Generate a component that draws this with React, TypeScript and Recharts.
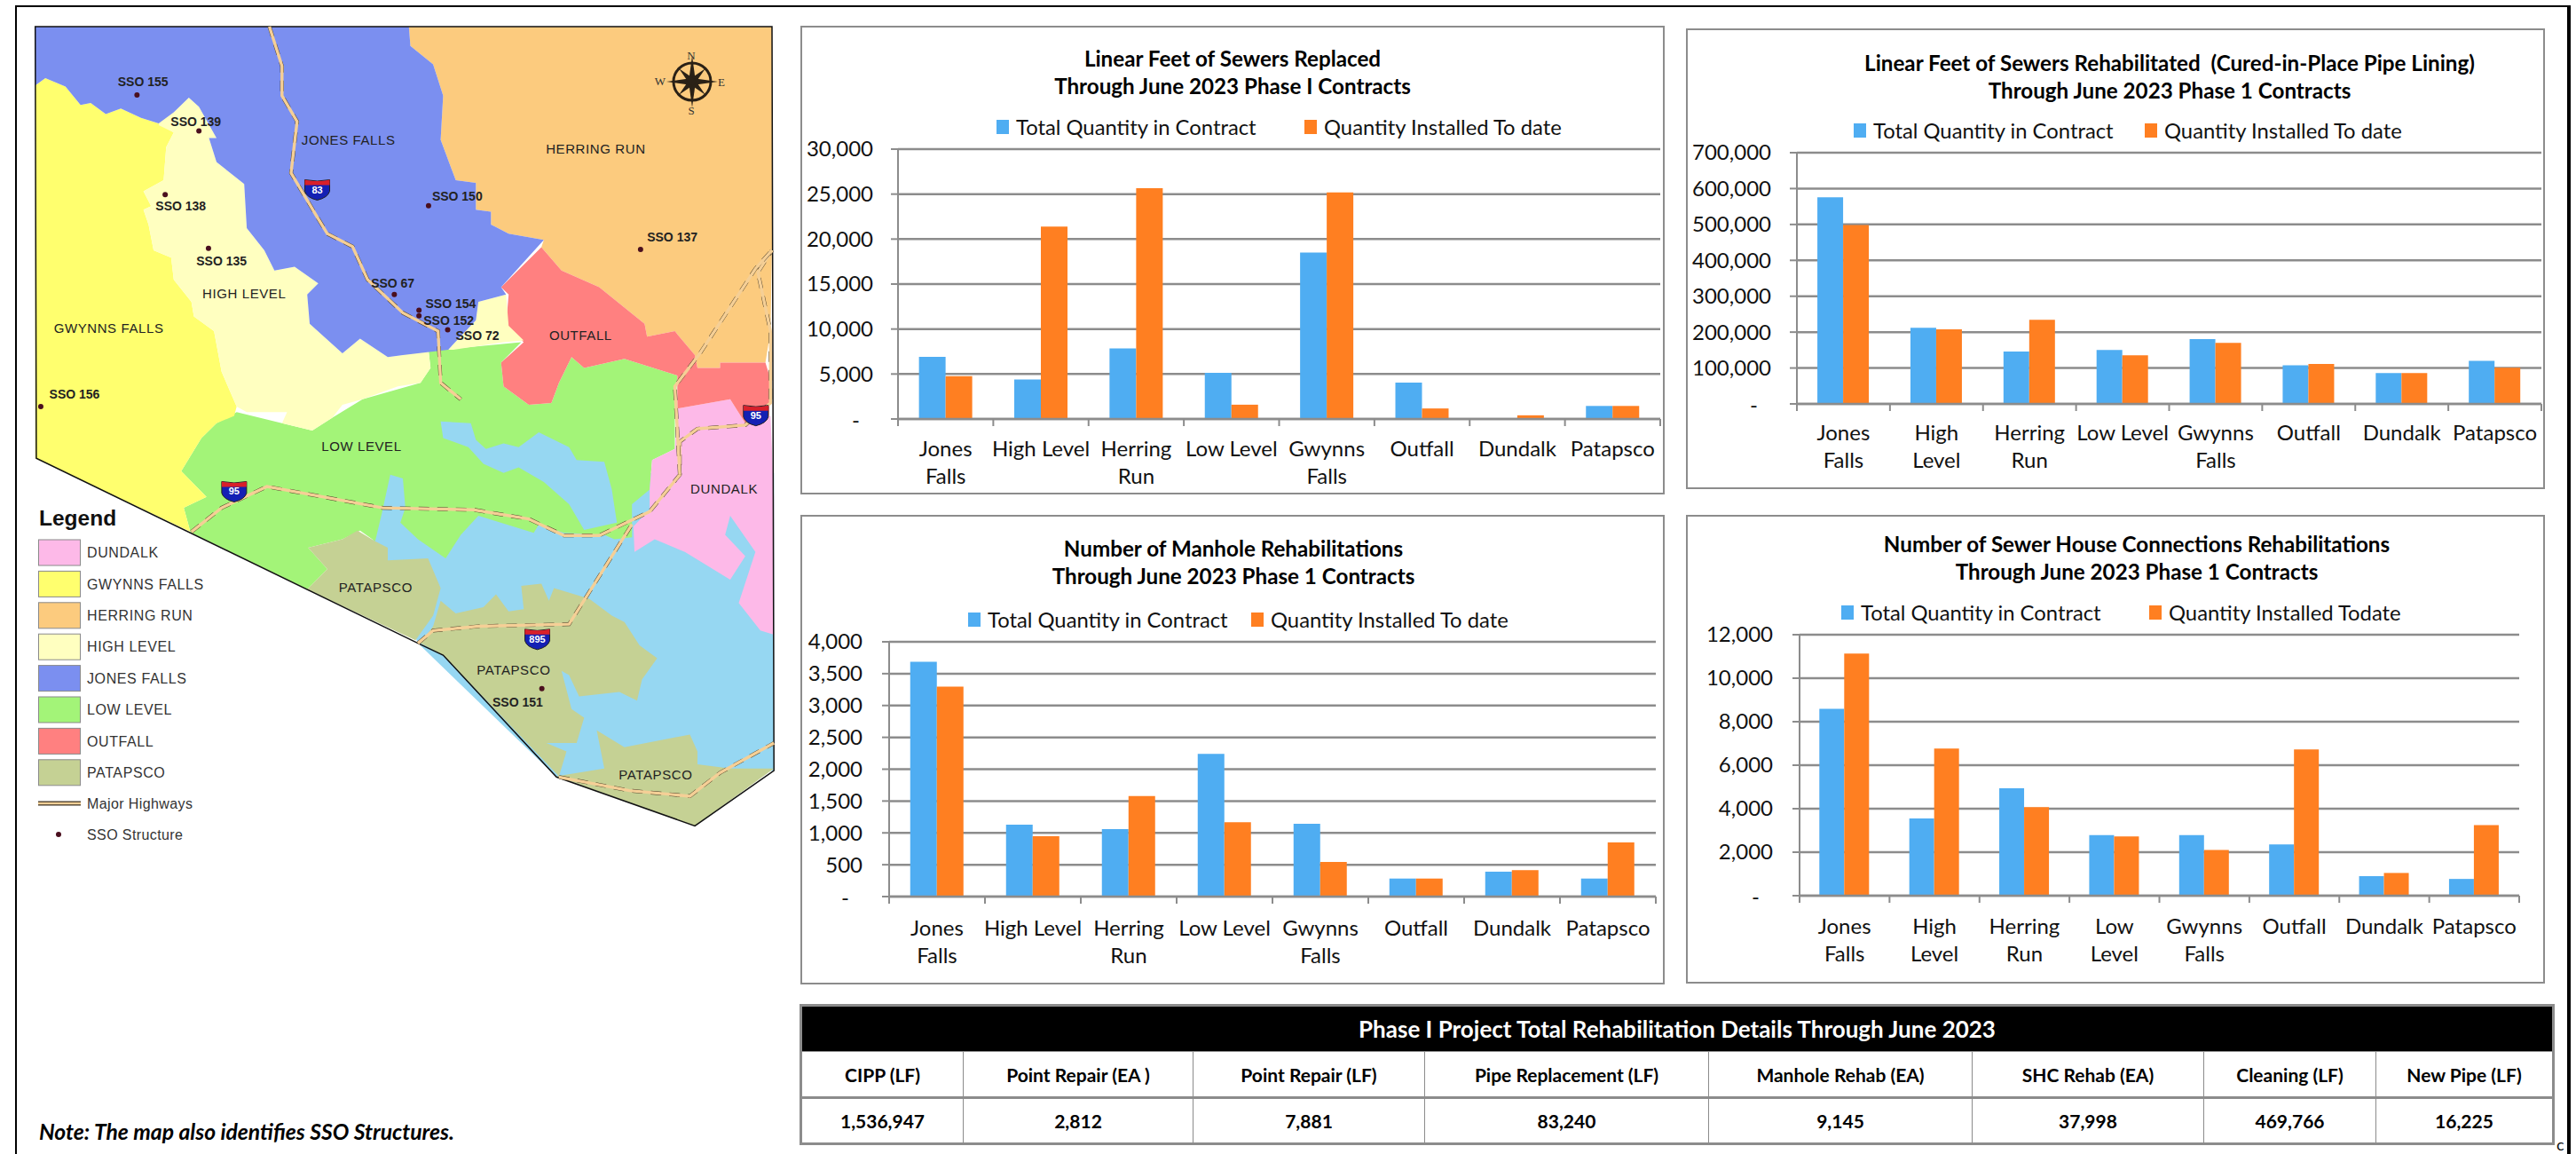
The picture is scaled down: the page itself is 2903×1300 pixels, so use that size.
import React from "react";
import {
    BarChart,
    Bar,
    XAxis,
    YAxis,
    CartesianGrid,
    Legend,
} from "recharts";

// Chart values
const categoriesReplaced = ["Jones\nFalls", "High Level", "Herring\nRun", "Low Level", "Gwynns\nFalls", "Outfall", "Dundalk", "Patapsco"];
const totalReplaced = [6900, 4380, 7840, 5140, 18500, 4040, 0, 1450];
const installedReplaced = [4760, 21400, 25650, 1590, 25200, 1170, 410, 1450];
const ticksReplaced = [0, 5000, 10000, 15000, 20000, 25000, 30000];

const categoriesLined = ["Jones\nFalls", "High\nLevel", "Herring\nRun", "Low Level", "Gwynns\nFalls", "Outfall", "Dundalk", "Patapsco"];
const totalLined = [575800, 211900, 145900, 150300, 180700, 107700, 86000, 119900];
const installedLined = [498500, 207600, 234500, 135500, 170200, 111200, 86000, 100700];
const ticksLined = [0, 100000, 200000, 300000, 400000, 500000, 600000, 700000];

const categoriesManhole = ["Jones\nFalls", "High Level", "Herring\nRun", "Low Level", "Gwynns\nFalls", "Outfall", "Dundalk", "Patapsco"];
const totalManhole = [3687, 1128, 1060, 2242, 1143, 283, 391, 283];
const installedManhole = [3297, 947, 1577, 1167, 542, 283, 415, 850];
const ticksManhole = [0, 500, 1000, 1500, 2000, 2500, 3000, 3500, 4000];

const categoriesHouse = ["Jones\nFalls", "High\nLevel", "Herring\nRun", "Low\nLevel", "Gwynns\nFalls", "Outfall", "Dundalk", "Patapsco"];
const totalHouse = [8590, 3550, 4940, 2790, 2790, 2360, 900, 770];
const installedHouse = [11130, 6770, 4070, 2720, 2100, 6720, 1045, 3250];
const ticksHouse = [0, 2000, 4000, 6000, 8000, 10000, 12000];

const tableTitle = "Phase I Project Total Rehabilitation Details Through June 2023";
const tableHeaders = ["CIPP (LF)", "Point Repair (EA )", "Point Repair (LF)", "Pipe Replacement (LF)", "Manhole Rehab (EA)", "SHC Rehab (EA)", "Cleaning (LF)", "New Pipe (LF)"];
const tableValues = ["1,536,947", "2,812", "7,881", "83,240", "9,145", "37,998", "469,766", "16,225"];
const tableColumns = [182, 259, 261, 320, 297, 261, 194, 199];

const legendAreas = ["DUNDALK", "GWYNNS FALLS", "HERRING RUN", "HIGH LEVEL", "JONES FALLS", "LOW LEVEL", "OUTFALL", "PATAPSCO"];
const legendAreaColors = ["#fdb9e8", "#ffff6e", "#fccb7e", "#ffffc0", "#7b8ff0", "#a3f478", "#ff8080", "#c5d194"];

const BLUE = "#4fadf2";
const ORANGE = "#ff7f21";
const GRID = "#8c8c8c";
const FONT = "Lato, Carlito, Calibri, sans-serif";

const formatTick = (v: number) => v.toLocaleString("en-US");

function YTick({ x, y, payload }: any) {
    const zero = payload.value === 0;
    return (
        <text x={zero ? x - 15 : x} y={zero ? y + 2 : y} dy="0.35em" textAnchor="end" fontFamily={FONT} fontSize={24} fill="#111">
            {zero ? "-" : formatTick(payload.value)}
        </text>
    );
}

// labels sit under the band, tick marks between bands like the Excel original
function XTick({ x, y, payload, index, band, offset, last }: any) {
    const lines = String(payload.value).split("\n");
    return (
        <g>
            <line x1={x - band / 2} x2={x - band / 2} y1={y} y2={y + 8} stroke={GRID} strokeWidth={2} />
            {index === last && <line x1={x + band / 2} x2={x + band / 2} y1={y} y2={y + 8} stroke={GRID} strokeWidth={2} />}
            {lines.map((line, i) => (
                <text key={line} x={x} y={y + offset + i * 31} dy="0.35em" textAnchor="middle" fontFamily={FONT} fontSize={24} fill="#111">
                    {line}
                </text>
            ))}
        </g>
    );
}

function SewerChart({ box, plot, titleLines, titleX, titleY, names, legendX, categories, total, installed, ticks, labelOffset, tickGap }: any) {
    const width = box.right - box.left;
    const height = box.bottom - box.top;
    const data = categories.map((category: string, i: number) => ({ category, total: total[i], installed: installed[i] }));
    const band = (plot.right - plot.left) / categories.length;
    const legendHeight = 24;

    const legendContent = () => (
        <div style={{ position: "relative", height: legendHeight, width }}>
            {names.map((name: string, i: number) => (
                <React.Fragment key={name}>
                    <div style={{ position: "absolute", left: legendX[i], top: 4, width: 14, height: 16, background: i === 0 ? BLUE : ORANGE }} />
                    <div style={{ position: "absolute", left: legendX[i] + 22, top: -4, fontFamily: FONT, fontSize: 23.8, lineHeight: "32px", whiteSpace: "nowrap", color: "#111" }}>
                        {name}
                    </div>
                </React.Fragment>
            ))}
        </div>
    );

    return (
        <div style={{ position: "absolute", left: box.left, top: box.top, width, height, boxSizing: "border-box", outline: `2.5px solid ${GRID}`, outlineOffset: -1 }}>
            {titleLines.map((line: string, i: number) => (
                <div key={line} style={{ position: "absolute", left: titleX - 500, width: 1000, top: titleY + i * 31 - 16, textAlign: "center", fontFamily: FONT, fontWeight: 700, fontSize: 24.2, lineHeight: "32px", color: "#000", whiteSpace: "pre" }}>
                    {line}
                </div>
            ))}
            <BarChart
                width={width}
                height={height}
                data={data}
                barCategoryGap="22%"
                barGap={0}
                margin={{ top: plot.top - box.top - legendHeight, right: box.right - plot.right, left: 0, bottom: 0 }}
                style={{ position: "absolute", left: 0, top: 0 }}
            >
                <CartesianGrid vertical={false} stroke={GRID} strokeWidth={2.5} />
                <XAxis
                    dataKey="category"
                    interval={0}
                    height={box.bottom - plot.bottom}
                    tickLine={false}
                    tickSize={0}
                    tickMargin={0}
                    axisLine={{ stroke: GRID, strokeWidth: 2.5 }}
                    tick={<XTick band={band} offset={labelOffset} last={categories.length - 1} />}
                />
                <YAxis
                    width={plot.left - box.left}
                    domain={[0, ticks[ticks.length - 1]]}
                    ticks={ticks}
                    interval={0}
                    tickSize={8}
                    tickMargin={tickGap}
                    tickLine={{ stroke: GRID, strokeWidth: 2 }}
                    axisLine={{ stroke: GRID, strokeWidth: 2 }}
                    tick={<YTick />}
                />
                <Legend
                    verticalAlign="top"
                    itemSorter={null}
                    content={legendContent}
                    wrapperStyle={{ left: 0, top: plot.top - box.top - 37, width, height: legendHeight }}
                />
                <Bar dataKey="total" name={names[0]} fill={BLUE} isAnimationActive={false} />
                <Bar dataKey="installed" name={names[1]} fill={ORANGE} isAnimationActive={false} />
            </BarChart>
        </div>
    );
}

function SummaryTable() {
    const cell = { border: `1.5px solid ${GRID}`, textAlign: "center" as const, fontFamily: FONT, fontWeight: 700, fontSize: 21, color: "#000", padding: 0 };
    return (
        <table style={{ position: "absolute", left: 903, top: 1133, width: 1973, height: 154, tableLayout: "fixed", borderCollapse: "collapse", outline: `2.5px solid ${GRID}` }}>
            <colgroup>
                {tableColumns.map((w, i) => <col key={i} style={{ width: w }} />)}
            </colgroup>
            <tbody>
                <tr style={{ height: 51 }}>
                    <td colSpan={8} style={{ ...cell, background: "#000", color: "#fff", fontSize: 26 }}>{tableTitle}</td>
                </tr>
                <tr style={{ height: 52, borderBottom: `3px solid ${GRID}` }}>
                    {tableHeaders.map((h) => <td key={h} style={cell}>{h}</td>)}
                </tr>
                <tr style={{ height: 51 }}>
                    {tableValues.map((v) => <td key={v} style={cell}>{v}</td>)}
                </tr>
            </tbody>
        </table>
    );
}

// ---- map (decoration only, traced by eye) ----
type P = number[];
const L = (x: number, y: number): P => [x, 1326.6 + y * 1.154];
const SX = 0.5675;
const SY = 0.41459;
const pts = (list: P[]) => list.map(([x, y]) => `${(x * SX).toFixed(1)},${(y * SY).toFixed(1)}`).join(" ");

const jonesShape: P[] = [[70, 72], [812, 72], [815, 125], [860, 175], [880, 260], [875, 380], [905, 490], [945, 497], [945, 570], [975, 575], [975, 610], [1010, 635], [1080, 652], [995, 780], [1005, 800], [950, 820], [945, 870], [890, 950], [800, 965], [770, 970], [715, 920], [680, 960], [615, 880], [610, 800], [632, 770], [585, 725], [545, 735], [525, 680], [490, 620], [485, 500], [430, 440], [415, 375], [430, 375], [395, 290], [375, 265], [345, 305], [315, 335], [280, 320], [240, 295], [210, 310], [180, 280], [160, 285], [130, 235], [90, 212], [70, 232]];
const highShape: P[] = [[375, 265], [395, 290], [430, 375], [415, 375], [430, 440], [485, 500], [490, 620], [525, 680], [545, 735], [585, 725], [632, 770], [610, 800], [615, 880], [680, 960], [715, 920], [770, 970], [800, 965], [850, 940], [855, 1000], [835, 1040], [790, 1050], [720, 1085], [680, 1100], [660, 1135], [620, 1170], [560, 1150], [570, 1120], [490, 1120], [470, 1105], [440, 1010], [425, 900], [385, 860], [380, 820], [345, 760], [340, 700], [305, 680], [295, 610], [285, 570], [300, 560], [285, 520], [325, 490], [330, 400], [345, 360], [315, 340], [320, 310], [345, 305]];
const highShape2: P[] = [[950, 820], [1005, 800], [1010, 885], [1040, 925], [1000, 930], [900, 950], [890, 950], [945, 870]];
const gwynnsShape: P[] = [[70, 232], [90, 212], [130, 235], [160, 285], [180, 280], [210, 310], [240, 295], [280, 320], [315, 335], [345, 360], [330, 400], [325, 490], [285, 520], [300, 560], [285, 570], [295, 610], [305, 680], [340, 700], [345, 760], [380, 820], [385, 860], [425, 900], [440, 1010], [470, 1105], [465, 1130], [430, 1150], [400, 1190], [360, 1280], [410, 1350], [365, 1380], [378, 1445], [70, 1245]];
const herringShape: P[] = [[812, 72], [1533, 72], [1533, 670], [1530, 900], [1520, 985], [1430, 985], [1430, 1000], [1385, 1000], [1380, 965], [1340, 900], [1285, 915], [1280, 880], [1190, 780], [1115, 735], [1075, 672], [1080, 652], [1010, 635], [975, 610], [975, 575], [945, 570], [945, 497], [905, 490], [875, 380], [880, 260], [860, 175], [815, 125]];
const outfallShape: P[] = [[1075, 672], [1115, 735], [1190, 780], [1280, 880], [1285, 915], [1340, 900], [1380, 965], [1385, 1000], [1430, 1000], [1430, 985], [1520, 985], [1530, 1030], [1527, 1130], [1480, 1150], [1450, 1085], [1345, 1110], [1345, 1020], [1240, 975], [1160, 1000], [1135, 970], [1110, 1040], [1095, 1095], [1050, 1100], [1000, 1050], [995, 985], [1040, 930], [1005, 885], [1010, 800], [995, 780]];
const lowShape: P[] = [[360, 1280], [400, 1190], [430, 1150], [470, 1120], [560, 1150], [620, 1170], [660, 1135], [720, 1085], [835, 1040], [855, 1000], [850, 940], [880, 950], [1035, 930], [995, 985], [1000, 1050], [1050, 1100], [1095, 1095], [1110, 1040], [1135, 970], [1160, 1000], [1240, 975], [1345, 1020], [1340, 1130], [1340, 1220], [1295, 1250], [1290, 1330], [1255, 1370], [1255, 1460], L(1220, 120), L(1200, 110), L(1120, 105), L(1070, 85), L(1060, 105), L(950, 65), L(915, 110), L(885, 165), L(830, 120), [795, 1420], [805, 1380], [800, 1300], [775, 1290], L(758, 60), L(745, 125), L(715, 100), L(680, 120), L(612, 140), L(650, 190), L(610, 238), L(380, 105), [378, 1445], [365, 1380], [410, 1350]];
const waterBase: P[] = [L(740, 120), [755, 1285], [1537, 1285], L(1537, 665), L(1105, 680), L(830, 365)];
const harborShape: P[] = [[875, 1145], [935, 1150], [945, 1195], [965, 1220], [1000, 1205], [1030, 1215], [1070, 1175], [1130, 1215], [1145, 1250], [1200, 1255], [1215, 1330], [1225, 1420], [1160, 1440], [1130, 1370], [1080, 1310], [1030, 1270], [1000, 1285], [960, 1260], [930, 1215], [880, 1190]];
const patapscoShapes: P[][] = [
    [L(610, 238), L(650, 190), L(612, 140), L(680, 120), L(710, 100), L(745, 125), L(770, 140), L(770, 170), L(850, 165), L(875, 235), L(860, 300), L(825, 358)],
    [L(835, 365), L(860, 325), L(875, 265), L(905, 295), L(960, 280), L(985, 250), L(1010, 290), L(1040, 285), L(1035, 230), L(1075, 225), L(1090, 265), L(1100, 235), L(1170, 260), L(1215, 300), L(1240, 315), L(1270, 370), L(1305, 400), L(1275, 450), L(1265, 500), L(1230, 480), L(1150, 490), L(1130, 440), L(1115, 430), L(1135, 520), L(1160, 540), L(1145, 600), L(1085, 600), L(1125, 620), L(1110, 678), L(880, 393)],
    [L(1105, 678), L(1200, 660), L(1185, 570), L(1240, 610), L(1370, 580), L(1385, 620), L(1385, 650), L(1450, 660), L(1537, 660), L(1380, 795)],
];
const dundalkShape: P[] = [[1345, 1110], [1450, 1085], [1480, 1150], [1530, 1130], [1537, 1350], L(1537, 345), L(1510, 335), L(1467, 270), L(1500, 150), L(1450, 65), L(1440, 110), L(1480, 160), L(1450, 215), L(1360, 150), L(1300, 120), L(1260, 150), L(1258, 90), L(1290, 50), [1290, 1330], [1295, 1250], [1340, 1220]];
const outline: P[] = [[70, 72], [1533, 72], L(1537, 665), L(1380, 795), L(1105, 680), L(880, 393), L(830, 365), [72, 1245]];
const highways: P[][] = [
    [[535, 72], [560, 180], [560, 260], [590, 330], [578, 470], [630, 590], [650, 635], [700, 670], [730, 760], [800, 850], [870, 900], [875, 1040], [915, 1085]],
    [[380, 1445], [440, 1380], [530, 1322], [760, 1380], [940, 1385], [1050, 1410], [1120, 1455], [1190, 1455], [1290, 1390], [1350, 1290], [1350, 1200], [1385, 1165], [1480, 1155], [1530, 1095], [1530, 900], [1505, 740], [1533, 680]],
    [[1350, 1290], [1340, 1050], [1390, 960], [1500, 730], [1533, 680]],
    [L(830, 365), L(860, 335), L(950, 325), L(1130, 320), L(1255, 85)],
    [L(1110, 680), L(1250, 712), L(1370, 725), L(1430, 670), L(1537, 600)],
];
const shields: [number, number, string][] = [[630, 515, "83"], [465, 1335, "95"], [1501, 1128, "95"], [1067, L(0, 355)[1], "895"]];
const areaLabels: [number, number, string][] = [[692, 380, "JONES FALLS"], [1183, 405, "HERRING RUN"], [485, 797, "HIGH LEVEL"], [216, 892, "GWYNNS FALLS"], [1153, 912, "OUTFALL"], [718, 1212, "LOW LEVEL"], [1438, 1328, "DUNDALK"], [746, L(0, 233)[1], "PATAPSCO"], [1020, L(0, 427)[1], "PATAPSCO"], [1302, L(0, 675)[1], "PATAPSCO"]];
const ssoLabels: [number, number, string][] = [[284, 222, "SSO 155"], [389, 330, "SSO 139"], [359, 561, "SSO 138"], [440, 710, "SSO 135"], [908, 534, "SSO 150"], [1335, 645, "SSO 137"], [780, 770, "SSO 67"], [895, 825, "SSO 154"], [891, 870, "SSO 152"], [948, 913, "SSO 72"], [148, 1072, "SSO 156"], [1028, L(0, 503)[1], "SSO 151"]];
const ssoDots: P[] = [[272, 258], [395, 356], [328, 529], [414, 675], [851, 559], [1272, 678], [783, 800], [832, 843], [832, 858], [889, 896], [81, 1105], L(1076, 472)];

function Shield({ x, y, label }: { x: number; y: number; label: string }) {
    const cx = x * SX;
    const cy = y * SY;
    return (
        <g>
            <path d={`M${cx - 14} ${cy - 11} Q${cx} ${cy - 8} ${cx + 14} ${cy - 11} L${cx + 14} ${cy + 2} Q${cx + 12} ${cy + 9} ${cx} ${cy + 12} Q${cx - 12} ${cy + 9} ${cx - 14} ${cy + 2} Z`} fill="#1420b4" stroke="#222" />
            <path d={`M${cx - 14} ${cy - 11} Q${cx} ${cy - 8} ${cx + 14} ${cy - 11} L${cx + 14} ${cy - 5} L${cx - 14} ${cy - 5} Z`} fill="#d8202a" />
            <text x={cx} y={cy + 4} textAnchor="middle" fontFamily="Liberation Sans" fontWeight={700} fontSize={11} fill="#fff">{label}</text>
        </g>
    );
}

function Compass() {
    const cx = 780;
    const cy = 92;
    const spikes = [0, 45, 90, 135, 180, 225, 270, 315];
    return (
        <g>
            <circle cx={cx} cy={cy} r={21} fill="none" stroke="#2a2116" strokeWidth={3} />
            {spikes.map((a) => (
                <polygon key={a} points={`${cx},${cy - (a % 90 === 0 ? 29 : 21)} ${cx + 4},${cy} ${cx - 4},${cy}`} fill="#2a2116" transform={`rotate(${a} ${cx} ${cy})`} />
            ))}
            <text x={779} y={67} textAnchor="middle" fontFamily="Liberation Serif" fontSize={13} fill="#333">N</text>
            <text x={779} y={129} textAnchor="middle" fontFamily="Liberation Serif" fontSize={13} fill="#333">S</text>
            <text x={744} y={96} textAnchor="middle" fontFamily="Liberation Serif" fontSize={13} fill="#333">W</text>
            <text x={813} y={97} textAnchor="middle" fontFamily="Liberation Serif" fontSize={13} fill="#333">E</text>
        </g>
    );
}

function MapPanel() {
    const swatchTop = (i: number) => 608 + i * 35.4;
    return (
        <svg width={890} height={1000} style={{ position: "absolute", left: 0, top: 0 }}>
            <polygon points={pts(waterBase)} fill="#96d7f2" />
            <polygon points={pts(lowShape)} fill="#a3f478" />
            <polygon points={pts(harborShape)} fill="#96d7f2" />
            {patapscoShapes.map((s, i) => <polygon key={i} points={pts(s)} fill="#c5d194" />)}
            <polygon points={pts(dundalkShape)} fill="#fdb9e8" />
            <polygon points={pts(herringShape)} fill="#fccb7e" />
            <polygon points={pts(outfallShape)} fill="#ff8080" />
            <polygon points={pts(gwynnsShape)} fill="#ffff6e" />
            <polygon points={pts(highShape)} fill="#ffffc0" />
            <polygon points={pts(highShape2)} fill="#ffffc0" />
            <polygon points={pts(jonesShape)} fill="#7b8ff0" />
            <polygon points={pts(outline)} fill="none" stroke="#111" strokeWidth={1.5} />
            {highways.map((h, i) => (
                <g key={i}>
                    <polyline points={pts(h)} fill="none" stroke="#4a3c26" strokeWidth={4.2} strokeDasharray="12 9" />
                    <polyline points={pts(h)} fill="none" stroke="#f5cf96" strokeWidth={3.4} />
                </g>
            ))}
            {shields.map(([x, y, label], i) => <Shield key={i} x={x} y={y} label={label} />)}
            {areaLabels.map(([x, y, label], i) => (
                <text key={i} x={x * SX} y={y * SY} dy="0.35em" textAnchor="middle" fontFamily="Liberation Sans" fontSize={15} letterSpacing={0.6} fill="#222">{label}</text>
            ))}
            {ssoLabels.map(([x, y, label]) => (
                <text key={label} x={x * SX} y={y * SY} dy="0.35em" textAnchor="middle" fontFamily="Liberation Sans" fontWeight={700} fontSize={14} fill="#222">{label}</text>
            ))}
            {ssoDots.map(([x, y], i) => <circle key={i} cx={x * SX} cy={y * SY} r={3} fill="#4a0f1e" />)}
            <Compass />
            <text x={44} y={592} fontFamily="Liberation Sans" fontWeight={700} fontSize={24.5} fill="#111">Legend</text>
            {legendAreas.map((name, i) => (
                <g key={name}>
                    <rect x={43.5} y={swatchTop(i)} width={47} height={29} fill={legendAreaColors[i]} stroke="#8a8a8a" />
                    <text x={98} y={swatchTop(i) + 14.5} dy="0.35em" fontFamily="Liberation Sans" fontSize={16} letterSpacing={0.6} fill="#333">{name}</text>
                </g>
            ))}
            <line x1={43} x2={91} y1={905} y2={905} stroke="#3a3020" strokeWidth={5} />
            <line x1={43} x2={91} y1={905} y2={905} stroke="#f5cf96" strokeWidth={2.5} />
            <text x={98} y={905} dy="0.35em" fontFamily="Liberation Sans" fontSize={16} letterSpacing={0.4} fill="#333">Major Highways</text>
            <circle cx={66} cy={940} r={3} fill="#4a0f1e" />
            <text x={98} y={940} dy="0.35em" fontFamily="Liberation Sans" fontSize={16} letterSpacing={0.4} fill="#333">SSO Structure</text>
        </svg>
    );
}

export default function App() {
    return (
        <div style={{ position: "absolute", left: 0, top: 0, width: 2903, height: 1300, background: "#fff", overflow: "hidden" }}>
            <div style={{ position: "absolute", left: 17, top: 6, width: 2878, height: 2, background: "#000" }} />
            <div style={{ position: "absolute", left: 17, top: 6, width: 2, height: 1294, background: "#000" }} />
            <div style={{ position: "absolute", left: 2893, top: 6, width: 4, height: 1294, background: "#000" }} />
            <MapPanel />
            <div style={{ position: "absolute", left: 44, top: 1258, fontFamily: FONT, fontWeight: 700, fontStyle: "italic", fontSize: 24.7, lineHeight: "34px", color: "#000", whiteSpace: "nowrap" }}>
                Note: The map also identifies SSO Structures.
            </div>
            <SewerChart
                box={{ left: 903, right: 1875, top: 30, bottom: 556 }}
                plot={{ left: 1012, right: 1871, top: 168, bottom: 472 }}
                titleLines={["Linear Feet of Sewers Replaced", "Through June 2023 Phase I Contracts"]}
                titleX={486}
                titleY={36}
                names={["Total Quantity in Contract", "Quantity Installed To date"]}
                legendX={[220, 567]}
                categories={categoriesReplaced}
                total={totalReplaced}
                installed={installedReplaced}
                ticks={ticksReplaced}
                labelOffset={34}
                tickGap={20}
            />
            <SewerChart
                box={{ left: 1901, right: 2867, top: 33, bottom: 550 }}
                plot={{ left: 2025, right: 2864, top: 172, bottom: 455 }}
                titleLines={["Linear Feet of Sewers Rehabilitated  (Cured-in-Place Pipe Lining)", "Through June 2023 Phase 1 Contracts"]}
                titleX={544}
                titleY={38}
                names={["Total Quantity in Contract", "Quantity Installed To date"]}
                legendX={[188, 516]}
                categories={categoriesLined}
                total={totalLined}
                installed={installedLined}
                ticks={ticksLined}
                labelOffset={33}
                tickGap={21}
            />
            <SewerChart
                box={{ left: 903, right: 1875, top: 581, bottom: 1108 }}
                plot={{ left: 1002, right: 1866, top: 723, bottom: 1010 }}
                titleLines={["Number of Manhole Rehabilitations", "Through June 2023 Phase 1 Contracts"]}
                titleX={487}
                titleY={37}
                names={["Total Quantity in Contract", "Quantity Installed To date"]}
                legendX={[188, 507]}
                categories={categoriesManhole}
                total={totalManhole}
                installed={installedManhole}
                ticks={ticksManhole}
                labelOffset={36}
                tickGap={22}
            />
            <SewerChart
                box={{ left: 1901, right: 2867, top: 581, bottom: 1107 }}
                plot={{ left: 2028, right: 2839, top: 715, bottom: 1009 }}
                titleLines={["Number of Sewer House Connections Rehabilitations", "Through June 2023 Phase 1 Contracts"]}
                titleX={507}
                titleY={32}
                names={["Total Quantity in Contract", "Quantity Installed Todate"]}
                legendX={[174, 521]}
                categories={categoriesHouse}
                total={totalHouse}
                installed={installedHouse}
                ticks={ticksHouse}
                labelOffset={35}
                tickGap={22}
            />
            <SummaryTable />
            <div style={{ position: "absolute", left: 2881, top: 1278, fontFamily: FONT, fontSize: 18, color: "#111" }}>c</div>
        </div>
    );
}
